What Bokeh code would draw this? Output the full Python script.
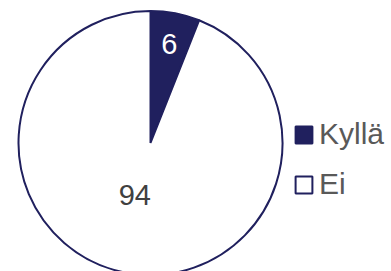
import numpy as np
from bokeh.plotting import figure
from bokeh.models import Range1d, ColumnDataSource, Legend, LegendItem
from bokeh.core.properties import value
from bokeh.embed import file_html
from bokeh.resources import INLINE

# Data
categories = ["Kyllä", "Ei"]
values = [6, 94]
fill_colors = ["#20205E", "#FFFFFF"]
label_colors = ["#FFFFFF", "#404040"]

# layout constants
label_radius_frac = [0.765, 0.41]
label_angle_shift_deg = [0, -6]
NAVY = "#20205E"
W, H = 391, 271
cx, cy, R = 150, 128.5, 132

vals = np.array(values, dtype=float)
frac = vals / vals.sum()
cum = np.concatenate([[0], np.cumsum(frac)])
start = np.pi / 2 - 2 * np.pi * cum[:-1]
end = np.pi / 2 - 2 * np.pi * cum[1:]
mid = (start + end) / 2 + np.radians(label_angle_shift_deg)
lr = np.array(label_radius_frac) * R

src = ColumnDataSource(dict(
    cat=categories, val=values, start=start, end=end, fill=fill_colors,
    lx=cx + lr * np.cos(mid), ly=cy + lr * np.sin(mid),
    ltext=[str(v) for v in values], lcolor=label_colors,
))

p = figure(width=W, height=H, output_backend="svg", toolbar_location=None,
           x_range=Range1d(0, W), y_range=Range1d(0, H), min_border=0)
p.axis.visible = False
p.grid.visible = False
p.outline_line_color = None
p.background_fill_color = "white"

p.wedge(x=cx, y=cy, radius=R, start_angle="start", end_angle="end",
        direction="clock", fill_color="fill", line_color=NAVY, line_width=2,
        source=src)

p.text(x="lx", y="ly", text="ltext", text_color="lcolor",
       text_font=value("Liberation Sans"), text_font_size="29px",
       text_align="center", text_baseline="middle", source=src)

# legend proxies (not drawn in the plot area)
nan = float("nan")
proxy = ColumnDataSource(dict(l=[nan], r=[nan], t=[nan], b=[nan]))
r1 = p.quad(left="l", right="r", top="t", bottom="b", source=proxy,
            fill_color=fill_colors[0], line_color=NAVY, line_width=2)
r2 = p.quad(left="l", right="r", top="t", bottom="b", source=proxy,
            fill_color=fill_colors[1], line_color=NAVY, line_width=2)

legend = Legend(items=[LegendItem(label=categories[0], renderers=[r1]),
                       LegendItem(label=categories[1], renderers=[r2])],
                location=(293, 70))
legend.padding = 0
legend.margin = 0
legend.spacing = 16
legend.glyph_width = 21
legend.glyph_height = 21
legend.label_standoff = 5
legend.label_text_font = "Liberation Sans"
legend.label_text_font_size = "30px"
legend.label_text_color = "#595959"
legend.border_line_color = None
legend.background_fill_alpha = 0
p.add_layout(legend)

open("out.html", "w").write(file_html(p, INLINE))
